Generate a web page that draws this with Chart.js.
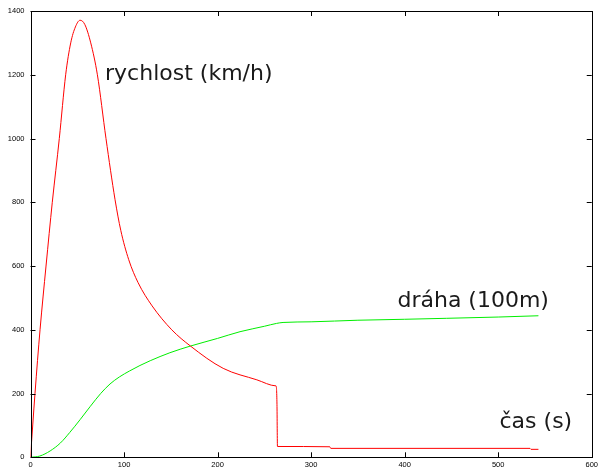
<!DOCTYPE html>
<html>
<head>
<meta charset="utf-8">
<script src="https://cdn.jsdelivr.net/npm/chart.js@4/dist/chart.umd.min.js"></script>
<style>
  html, body { margin: 0; padding: 0; background: #fff; }
  #wrap { width: 601px; height: 469px; }
</style>
</head>
<body>
<div id="wrap"><canvas id="c" width="601" height="469"></canvas></div>
<script>
// cas (s) vs rychlost (km/h)
var speedTime = [0, 4.8, 10.2, 16.6, 23.3, 30.8, 37.6, 43, 48, 53, 58, 64.4, 71.5, 80.7, 90.4, 96.5, 105, 115, 130, 151, 171, 206, 242, 262.5, 262.6, 263.5, 264, 264.1, 320, 321, 534, 535, 543];
var speed = [0, 200, 400, 600, 800, 1000, 1200, 1300, 1350, 1371, 1358, 1300, 1200, 1000, 808, 712, 620, 548, 475, 400, 349, 279, 243, 224, 223.9, 165, 34, 33.9, 33, 28, 28, 25, 25];

// cas (s) vs draha (100m)
var distTime = [0, 10, 21, 32, 42, 53, 64, 75, 85, 95, 106, 117, 128, 149, 171, 200, 224, 250, 263, 270, 300, 350, 400, 445, 500, 543];
var dist = [0, 4, 20, 45, 78, 118, 160, 200, 230, 252, 271, 288, 303, 328, 349, 373, 394, 411, 420, 423, 425, 430, 433, 436, 440, 444];

var xTicks = [0, 100, 200, 300, 400, 500, 600];
var yTicks = [0, 200, 400, 600, 800, 1000, 1200, 1400];

function toPoints(xs, ys) {
    return xs.map(function (x, i) { return { x: x, y: ys[i] }; });
}

//frame, inward ticks on all sides, curve captions
var gnuplotLook = {
    id: 'gnuplotLook',
    afterDraw: function (chart) {
        var ctx = chart.ctx;
        var a = chart.chartArea;
        var xs = chart.scales.x;
        var ys = chart.scales.y;
        ctx.save();
        ctx.strokeStyle = '#000';
        ctx.lineWidth = 1;
        ctx.strokeRect(Math.round(a.left) + 0.5, Math.round(a.top) + 0.5,
            Math.round(a.right - a.left), Math.round(a.bottom - a.top));
        ctx.beginPath();
        xTicks.forEach(function (v) {
            var px = Math.round(xs.getPixelForValue(v)) + 0.5;
            ctx.moveTo(px, a.bottom); ctx.lineTo(px, a.bottom - 5);
            ctx.moveTo(px, a.top); ctx.lineTo(px, a.top + 5);
        });
        yTicks.forEach(function (v) {
            var py = Math.round(ys.getPixelForValue(v)) + 0.5;
            ctx.moveTo(a.left, py); ctx.lineTo(a.left + 5, py);
            ctx.moveTo(a.right, py); ctx.lineTo(a.right - 5, py);
        });
        ctx.stroke();

        ctx.fillStyle = '#1a1a1a';
        ctx.font = '22px "DejaVu Sans"';
        ctx.textBaseline = 'alphabetic';
        ctx.fillText('rychlost (km/h)', xs.getPixelForValue(79.7), ys.getPixelForValue(1182));
        ctx.fillText('dráha (100m)', xs.getPixelForValue(392.3), ys.getPixelForValue(473));
        ctx.fillText('čas (s)', xs.getPixelForValue(501.4), ys.getPixelForValue(91));
        ctx.restore();
    }
};

var ctx = document.getElementById('c').getContext('2d');
var chart = new Chart(ctx, {
    type: 'scatter',
    data: {
        datasets: [{
            data: toPoints(speedTime, speed),
            showLine: true,
            borderColor: '#ff0000',
            borderWidth: 1,
            pointRadius: 0,
            cubicInterpolationMode: 'monotone'
        }, {
            data: toPoints(distTime, dist),
            showLine: true,
            borderColor: '#00ee00',
            borderWidth: 1,
            pointRadius: 0,
            cubicInterpolationMode: 'monotone'
        }]
    },
    options: {
        responsive: false,
        animation: false,
        events: [],
        layout: { padding: { top: 11, right: 9, left: 0, bottom: 0 } },
        plugins: { legend: { display: false }, tooltip: { enabled: false } },
        scales: {
            x: {
                type: 'linear', min: 0, max: 600,
                afterFit: function (s) { s.height = 11.7; },
                afterBuildTicks: function (s) { s.ticks = xTicks.map(function (v) { return { value: v }; }); },
                grid: { display: false, drawTicks: false },
                border: { display: false },
                ticks: {
                    padding: 3, color: '#000', maxRotation: 0,
                    font: { family: 'Liberation Sans', size: 7.5 },
                    callback: function (v) { return String(v); }
                }
            },
            y: {
                type: 'linear', min: 0, max: 1400,
                afterFit: function (s) { s.width = 30.5; },
                afterBuildTicks: function (s) { s.ticks = yTicks.map(function (v) { return { value: v }; }); },
                grid: { display: false, drawTicks: false },
                border: { display: false },
                ticks: {
                    padding: 6, color: '#000',
                    font: { family: 'Liberation Sans', size: 7.5 },
                    callback: function (v) { return String(v); }
                }
            }
        }
    },
    plugins: [gnuplotLook]
});
</script>
</body>
</html>
